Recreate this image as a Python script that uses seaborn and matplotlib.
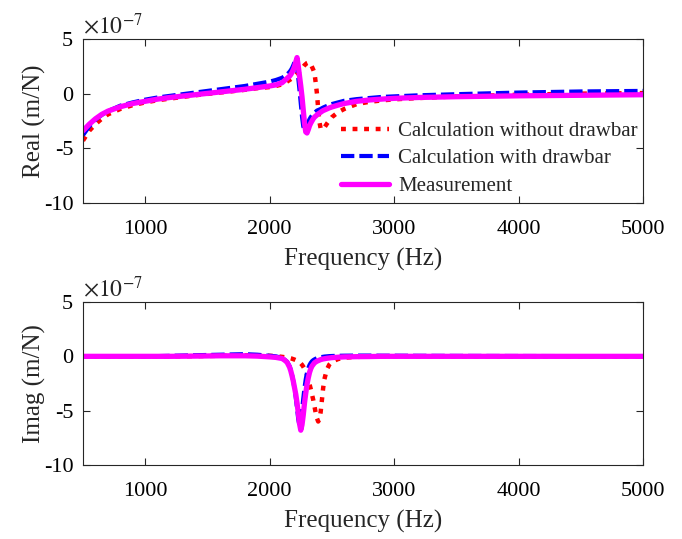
import matplotlib
matplotlib.use("Agg")
import matplotlib.pyplot as plt
import seaborn as sns

# frequency grid (Hz), shared by both panels
freq = [500, 550, 600, 650, 700, 800, 900, 1000, 1100, 1200, 1400, 1600, 1800, 1900, 2000, 2050, 2100, 2120, 2140,
        2160, 2170, 2180, 2190, 2200, 2210, 2220, 2230, 2240, 2250, 2260, 2270, 2280, 2290, 2300, 2310, 2320, 2330,
        2340, 2350, 2360, 2370, 2380, 2390, 2400, 2410, 2420, 2430, 2440,
        2460, 2480, 2500, 2550, 2600, 2700, 2800, 2900, 3000, 3200, 3500, 4000, 4500, 5000]

# real part, x 1e-7 m/N
real_no_drawbar = [-4.3, -3.4, -2.8, -2.3, -1.9, -1.4, -1.05, -0.8, -0.6, -0.45, -0.15, 0.1, 0.35, 0.5, 0.6, 0.7, 0.85, 0.95, 1.1,
                   1.25, 1.32, 1.4, 1.5, 1.6, 1.7, 1.8, 1.9, 2.0, 2.15, 2.3, 2.45, 2.6, 2.7, 2.8, 2.85, 2.85, 2.7,
                   2.45, 2.2, 1.9, 1.0, 0.0, -1.4, -2.6, -3.2, -3.3, -3.2, -3.1,
                   -2.75, -2.45, -2.15, -1.7, -1.4, -0.95, -0.75, -0.62, -0.52, -0.4, -0.25, -0.1, 0.0, 0.05]
real_drawbar = [-3.8, -3.0, -2.4, -1.95, -1.6, -1.1, -0.8, -0.55, -0.35, -0.2, 0.1, 0.4, 0.7, 0.9, 1.1, 1.25, 1.45, 1.6, 1.75,
                2.0, 2.15, 2.35, 2.6, 2.9, 3.2, 2.4, 1.4, 0.3, -0.9, -2.1, -3.0, -3.3, -3.2, -2.9, -2.6, -2.35, -2.15,
                -2.0, -1.85, -1.75, -1.65, -1.55, -1.5, -1.45, -1.4, -1.33, -1.27, -1.22,
                -1.12, -1.03, -0.95, -0.8, -0.65, -0.5, -0.4, -0.3, -0.25, -0.15, -0.05, 0.1, 0.2, 0.25]
real_meas = [-3.4, -2.8, -2.3, -1.9, -1.6, -1.2, -0.9, -0.7, -0.5, -0.35, -0.1, 0.15, 0.4, 0.55, 0.7, 0.8, 1.0, 1.2, 1.4,
             1.6, 1.75, 1.95, 2.2, 2.5, 2.9, 3.3, 2.5, 1.6, 0.7, -0.3, -1.5, -2.7, -3.5, -3.6, -3.3, -2.95, -2.7,
             -2.5, -2.3, -2.15, -2.05, -1.95, -1.85, -1.78, -1.7, -1.62, -1.55, -1.5,
             -1.4, -1.3, -1.22, -1.05, -0.9, -0.7, -0.58, -0.5, -0.43, -0.35, -0.28, -0.2, -0.15, -0.1]

# imaginary part, x 1e-7 m/N
imag_no_drawbar = [0, 0, 0, 0, 0, 0, 0, 0, 0, 0, 0.02, 0.05, 0.1, 0.1, 0.05, 0.02, -0.05, -0.08, -0.12,
                   -0.15, -0.18, -0.22, -0.26, -0.3, -0.35, -0.4, -0.47, -0.55, -0.65, -0.78, -0.95, -1.15, -1.4, -1.7, -2.1, -2.55, -3.0,
                   -3.5, -4.0, -4.6, -5.2, -5.7, -6.0, -5.8, -5.1, -4.0, -2.9, -2.1,
                   -1.2, -0.75, -0.5, -0.25, -0.12, -0.05, -0.02, 0, 0, 0, 0, 0, 0, 0]
imag_drawbar = [0, 0, 0, 0, 0, 0, 0, 0, 0.02, 0.05, 0.1, 0.15, 0.2, 0.15, 0.05, 0, -0.15, -0.3, -0.5,
                -0.9, -1.25, -1.7, -2.3, -3.0, -3.8, -4.8, -5.8, -6.4, -6.0, -5.0, -3.9, -2.9, -2.1, -1.5, -1.1, -0.8, -0.6,
                -0.45, -0.35, -0.28, -0.22, -0.17, -0.13, -0.1, -0.08, -0.06, -0.04, -0.02,
                0, 0.02, 0.03, 0.05, 0.06, 0.07, 0.07, 0.06, 0.06, 0.05, 0.04, 0.03, 0.02, 0.02]
imag_meas = [0, 0, 0, 0, 0, 0, 0, 0, 0, 0, 0.02, 0.05, 0.05, 0.02, -0.05, -0.1, -0.2, -0.35, -0.55,
             -1.0, -1.35, -1.8, -2.3, -2.9, -3.5, -4.3, -5.2, -6.2, -6.8, -6.3, -5.4, -4.3, -3.4, -2.6, -2.0, -1.5, -1.15,
             -0.9, -0.75, -0.6, -0.52, -0.45, -0.4, -0.35, -0.3, -0.27, -0.24, -0.22,
             -0.18, -0.15, -0.12, -0.08, -0.05, -0.03, -0.02, 0, 0, 0, 0, 0, 0, 0]

labels = ["Calculation without drawbar", "Calculation with drawbar", "Measurement"]
xticks = [1000, 2000, 3000, 4000, 5000]
yticks = [-10, -5, 0, 5]

sns.set_style("ticks")
plt.rcParams["font.family"] = ["Liberation Serif", "DejaVu Serif"]
plt.rcParams["mathtext.fontset"] = "stix"
plt.rcParams["axes.unicode_minus"] = False

fig = plt.figure(figsize=(6.82, 5.39), dpi=100)
ax1 = fig.add_axes([0.1217, 0.6234, 0.8211, 0.3043])
ax2 = fig.add_axes([0.1217, 0.1373, 0.8211, 0.3024])

styles = [
    dict(color="#ff0000", linestyle=(0, (1.1, 1.5)), linewidth=3.2, dash_capstyle="butt"),
    dict(color="#0000ff", linestyle=(0, (3.2, 1.2)), linewidth=3.0, dash_capstyle="butt"),
    dict(color="#ff00ff", linestyle="-", linewidth=3.8),
]

for ax, series, ylab in [(ax1, (real_no_drawbar, real_drawbar, real_meas), "Real (m/N)"),
                         (ax2, (imag_no_drawbar, imag_drawbar, imag_meas), "Imag (m/N)")]:
    for vals, st, lab in zip(series, styles, labels):
        sns.lineplot(x=freq, y=vals, ax=ax, sort=False, estimator=None,
                     label=lab if ax is ax1 else None, legend=False, **st)
    ax.set_xlim(500, 5000)
    ax.set_ylim(-10, 5)
    ax.set_xticks(xticks)
    ax.set_yticks(yticks)
    ax.tick_params(direction="in", top=True, right=True, length=5, width=0.8,
                   labelsize=16, colors="#262626", labelcolor="black")
    ax.tick_params(axis="x", pad=12)
    ax.tick_params(axis="y", pad=7)
    for sp in ax.spines.values():
        sp.set_visible(True)
        sp.set_color("#262626")
        sp.set_linewidth(0.8)
    ax.set_xlabel("Frequency (Hz)", fontsize=18, labelpad=7)
    ax.set_ylabel(ylab, fontsize=18, labelpad=-2)
    ax.text(0.0, 1.035, r"$\times10^{-7}$", transform=ax.transAxes, fontsize=17,
            ha="left", va="baseline")

ax1.legend(loc="center left", bbox_to_anchor=(0.46, 0.27), frameon=False, fontsize=15,
           handlelength=2.3, handletextpad=0.45, labelspacing=0.38, borderpad=0, borderaxespad=0)

fig.savefig("out.png", dpi=100)
